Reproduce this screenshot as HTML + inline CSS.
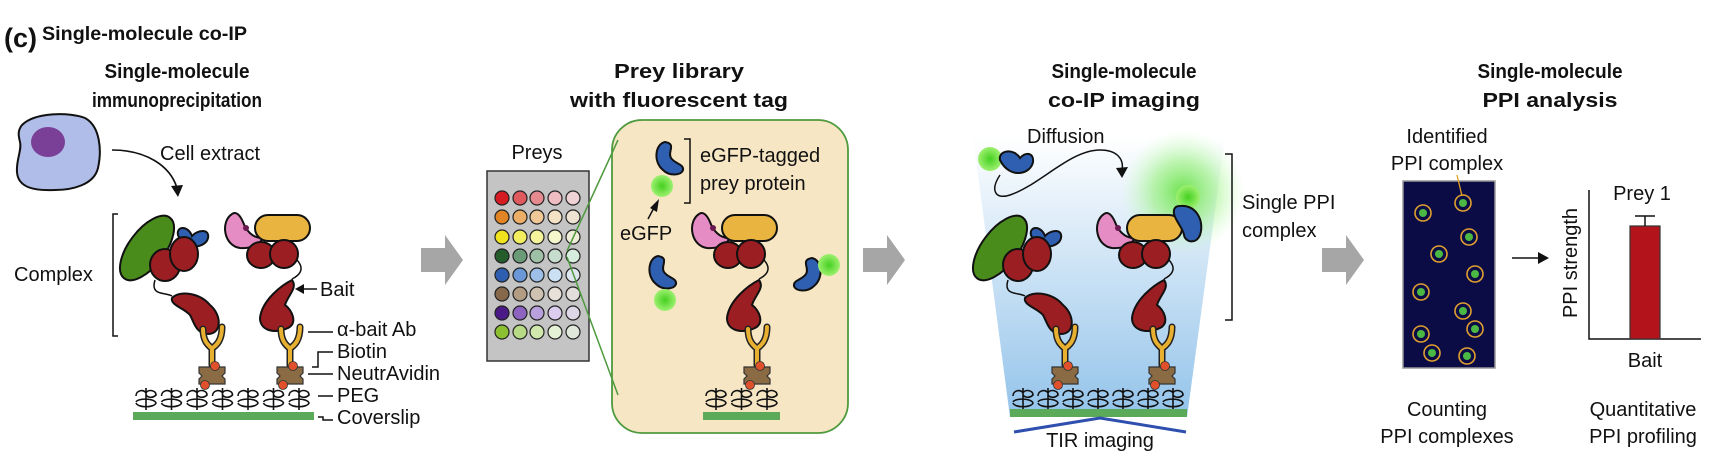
<!DOCTYPE html>
<html><head><meta charset="utf-8"><style>
html,body{margin:0;padding:0;background:#fff}
svg{display:block}
text{font-family:"Liberation Sans",Arial,sans-serif;fill:#111}
.t{font-weight:bold;font-size:20px}
.l{font-size:20px}
</style></head><body>
<svg width="1730" height="453" viewBox="0 0 1730 453" xmlns="http://www.w3.org/2000/svg">
<defs>
<linearGradient id="cone" x1="0" y1="0" x2="0" y2="1">
<stop offset="0" stop-color="#ffffff"/><stop offset="1" stop-color="#93c3ea"/></linearGradient>
<radialGradient id="glow"><stop offset="0" stop-color="#5ee03a" stop-opacity="0.9"/><stop offset="0.5" stop-color="#8ef070" stop-opacity="0.55"/><stop offset="1" stop-color="#c8ffc0" stop-opacity="0"/></radialGradient>
<radialGradient id="gfp" cx="0.5" cy="0.5" r="0.5"><stop offset="0" stop-color="#44d020"/><stop offset="1" stop-color="#9ef070"/></radialGradient>
<g id="stalk">
 <path d="M-9,-38 C-9,-22 0,-20 0,-18 M10,-40 C10,-22 0,-20 0,-18 M0,-18 L0,-2" stroke="#222" stroke-width="7" fill="none" stroke-linecap="round"/>
 <path d="M-9,-38 C-9,-22 0,-20 0,-18 M10,-40 C10,-22 0,-20 0,-18 M0,-18 L0,-2" stroke="#e8b030" stroke-width="4" fill="none" stroke-linecap="round"/>
 <path d="M-13,0 L13,0 L13,6 L10,9 L13,12 L13,17 L-13,17 L-13,12 L-10,9 L-13,6Z" fill="#8b6b43" stroke="#333" stroke-width="1.2"/>
 <circle cx="3" cy="-1" r="4.5" fill="#e0502a" stroke="#333" stroke-width="0.8"/>
 <circle cx="-7" cy="18" r="4.5" fill="#e0502a" stroke="#333" stroke-width="0.8"/>
</g>
<g id="A">
 <ellipse cx="147" cy="248" rx="18" ry="38" transform="rotate(37 147 248)" fill="#4a8c1c" stroke="#111" stroke-width="2"/>
 <path d="M178,235 C176,226 188,225 192,236 C197,230 210,228 208,238 C206,248 184,252 178,235Z" fill="#2f5fb0" stroke="#111" stroke-width="2"/>
 <ellipse cx="165" cy="265" rx="15" ry="16" fill="#9a1e22" stroke="#111" stroke-width="2"/>
 <ellipse cx="184" cy="254" rx="14" ry="17" fill="#9a1e22" stroke="#111" stroke-width="2"/>
 <path d="M155,280 C150,296 165,292 172,296" stroke="#111" stroke-width="1.5" fill="none"/>
 <path d="M172,298 C180,290 200,293 210,305 C222,315 222,334 208,334 C196,334 194,322 190,315 C184,308 170,305 172,298Z" fill="#9a1e22" stroke="#111" stroke-width="2"/>
 <use href="#stalk" transform="translate(212,367)"/>
</g>
<g id="B">
 <path d="M232,214 C220,222 224,246 240,248 C252,249 262,243 262,238 C252,238 246,230 243,222 C240,215 236,211 232,214Z" fill="#e58cc4" stroke="#111" stroke-width="2"/>
 <circle cx="246" cy="228" r="3" fill="#6a1a50"/>
 <rect x="255" y="215" width="55" height="26" rx="13" fill="#e9b440" stroke="#111" stroke-width="2"/>
 <ellipse cx="261" cy="255" rx="14" ry="13" fill="#9a1e22" stroke="#111" stroke-width="2"/>
 <ellipse cx="284" cy="254" rx="14" ry="14" fill="#9a1e22" stroke="#111" stroke-width="2"/>
 <path d="M297,260 C306,270 298,276 292,279" stroke="#111" stroke-width="1.5" fill="none"/>
 <path d="M292,280 C282,285 262,300 260,318 C260,331 275,334 288,328 C298,323 292,310 285,305 C288,295 298,288 292,280Z" fill="#9a1e22" stroke="#111" stroke-width="2"/>
 <use href="#stalk" transform="translate(290,367)"/>
</g>
<g id="peg">
 <path d="M2,8 C2,2 10,1 12,5 C14,1 22,2 22,7 C18,11 12,9 12,6 M12,0 L12,22 M2,14 C4,10 20,10 22,15 C20,20 4,20 2,15" stroke="#111" stroke-width="1.6" fill="none"/>
</g>
<g id="prey">
 <path d="M10,0 C0,2 -2,20 8,28 C14,34 26,34 28,28 C29,22 20,22 16,16 C12,10 22,2 10,0Z" fill="#2f5fb0" stroke="#111" stroke-width="2"/>
</g>
<g id="arr"><path d="M0,13 L24,13 L24,0 L42,25 L24,50 L24,37 L0,37Z" fill="#a6a6a6"/></g>
</defs>

<!-- header -->
<text x="4" y="47" style="font-weight:bold;font-size:27px">(c)</text>
<text x="42" y="40" class="t" style="font-size:19px" textLength="205" lengthAdjust="spacingAndGlyphs">Single-molecule co-IP</text>

<!-- titles -->
<text x="177" y="78" class="t" text-anchor="middle" textLength="145" lengthAdjust="spacingAndGlyphs">Single-molecule</text>
<text x="177" y="107" class="t" text-anchor="middle" textLength="170" lengthAdjust="spacingAndGlyphs">immunoprecipitation</text>
<text x="679" y="78" class="t" text-anchor="middle" textLength="130" lengthAdjust="spacingAndGlyphs">Prey library</text>
<text x="679" y="107" class="t" text-anchor="middle" textLength="218" lengthAdjust="spacingAndGlyphs">with fluorescent tag</text>
<text x="1124" y="78" class="t" text-anchor="middle" textLength="145" lengthAdjust="spacingAndGlyphs">Single-molecule</text>
<text x="1124" y="107" class="t" text-anchor="middle" textLength="152" lengthAdjust="spacingAndGlyphs">co-IP imaging</text>
<text x="1550" y="78" class="t" text-anchor="middle" textLength="145" lengthAdjust="spacingAndGlyphs">Single-molecule</text>
<text x="1550" y="107" class="t" text-anchor="middle" textLength="135" lengthAdjust="spacingAndGlyphs">PPI analysis</text>

<!-- panel 1 -->
<path d="M22,125 C35,112 70,112 85,118 C100,126 102,150 98,168 C94,185 72,190 55,190 C35,191 18,188 17,172 C16,160 22,150 20,142 C18,134 18,130 22,125Z" fill="#b0bde8" stroke="#111" stroke-width="2"/>
<ellipse cx="48" cy="142" rx="17" ry="15" fill="#7a3f96"/>
<path d="M112,150 C145,150 170,165 177,188" stroke="#111" stroke-width="1.6" fill="none"/>
<path d="M171,186 L178,197 L183,185Z" fill="#111"/>
<text x="160" y="160" class="l">Cell extract</text>
<path d="M118,214 L113,214 L113,336 L118,336" stroke="#111" stroke-width="1.5" fill="none"/>
<text x="14" y="281" class="l">Complex</text>
<use href="#A"/>
<use href="#B"/>
<g transform="translate(134,388)"><use href="#peg"/><use href="#peg" x="25.5"/><use href="#peg" x="51"/><use href="#peg" x="76.5"/><use href="#peg" x="102"/><use href="#peg" x="127.5"/><use href="#peg" x="153"/></g>
<rect x="133" y="412" width="181" height="8" fill="#5aaa5a"/>
<path d="M317,289 L302,289" stroke="#111" stroke-width="1.5"/><path d="M304,284 L295,289 L304,294Z" fill="#111"/>
<text x="320" y="296" class="l">Bait</text>
<path d="M308,332 L333,332" stroke="#111" stroke-width="1.5"/>
<text x="337" y="336" class="l">α-bait Ab</text>
<path d="M312,367 L318,367 L318,352 L333,352" stroke="#111" stroke-width="1.5" fill="none"/>
<text x="337" y="358" class="l">Biotin</text>
<path d="M308,374 L333,374" stroke="#111" stroke-width="1.5"/>
<text x="337" y="380" class="l">NeutrAvidin</text>
<path d="M318,396 L333,396" stroke="#111" stroke-width="1.5"/>
<text x="337" y="402" class="l">PEG</text>
<path d="M318,417 L323,417 L323,420 L333,420" stroke="#111" stroke-width="1.5" fill="none"/>
<text x="337" y="424" class="l">Coverslip</text>

<!-- arrows -->
<use href="#arr" transform="translate(421,235)"/>
<use href="#arr" transform="translate(863,235)"/>
<use href="#arr" transform="translate(1322,235)"/>

<!-- panel 2 -->
<text x="537" y="159" class="l" text-anchor="middle">Preys</text>
<rect x="487" y="171" width="102" height="190" fill="#c4c4c4" stroke="#333" stroke-width="1.5"/>
<g stroke="#222" stroke-width="1.2">
<circle cx="502" cy="198" r="7" fill="#d41c22"/><circle cx="520" cy="198" r="7" fill="#de5a5e"/><circle cx="537" cy="198" r="7" fill="#e58a8e"/><circle cx="555" cy="198" r="7" fill="#efbcc2"/><circle cx="573" cy="198" r="7" fill="#efd2d6"/>
<circle cx="502" cy="217" r="7" fill="#e08424"/><circle cx="520" cy="217" r="7" fill="#eaae68"/><circle cx="537" cy="217" r="7" fill="#f0c898"/><circle cx="555" cy="217" r="7" fill="#f4e2c6"/><circle cx="573" cy="217" r="7" fill="#eee2d2"/>
<circle cx="502" cy="237" r="7" fill="#f0e21c"/><circle cx="520" cy="237" r="7" fill="#f2ee60"/><circle cx="537" cy="237" r="7" fill="#f4f29a"/><circle cx="555" cy="237" r="7" fill="#f6f6cc"/><circle cx="573" cy="237" r="7" fill="#eeeed8"/>
<circle cx="502" cy="256" r="7" fill="#245c2c"/><circle cx="520" cy="256" r="7" fill="#6a9a78"/><circle cx="537" cy="256" r="7" fill="#9ec0a6"/><circle cx="555" cy="256" r="7" fill="#c6dccc"/><circle cx="573" cy="256" r="7" fill="#d6ecdc"/>
<circle cx="502" cy="275" r="7" fill="#2e5eb0"/><circle cx="520" cy="275" r="7" fill="#6a98d6"/><circle cx="537" cy="275" r="7" fill="#9ec0e8"/><circle cx="555" cy="275" r="7" fill="#cce0f4"/><circle cx="573" cy="275" r="7" fill="#dde6ee"/>
<circle cx="502" cy="294" r="7" fill="#86684a"/><circle cx="520" cy="294" r="7" fill="#b29c84"/><circle cx="537" cy="294" r="7" fill="#d0c2b0"/><circle cx="555" cy="294" r="7" fill="#e6e0d8"/><circle cx="573" cy="294" r="7" fill="#e2dedc"/>
<circle cx="502" cy="313" r="7" fill="#4a1a86"/><circle cx="520" cy="313" r="7" fill="#8c64c0"/><circle cx="537" cy="313" r="7" fill="#b8a0dc"/><circle cx="555" cy="313" r="7" fill="#dccdee"/><circle cx="573" cy="313" r="7" fill="#ddd6e6"/>
<circle cx="502" cy="332" r="7" fill="#8cc030"/><circle cx="520" cy="332" r="7" fill="#b6da86"/><circle cx="537" cy="332" r="7" fill="#d0e8ae"/><circle cx="555" cy="332" r="7" fill="#e6f2d6"/><circle cx="573" cy="332" r="7" fill="#dfe8da"/>
</g>
<rect x="612" y="120" width="236" height="313" rx="30" fill="#f7e6c4" stroke="#4f9a3e" stroke-width="1.8"/>
<path d="M618,140 L567,251 M567,257 L618,395" stroke="#4f9a3e" stroke-width="1.5" fill="none"/>
<use href="#prey" transform="translate(655,142)"/>
<circle cx="662" cy="186" r="11" fill="url(#gfp)"/>
<path d="M684,139 L690,139 L690,203 L684,203" stroke="#111" stroke-width="1.5" fill="none"/>
<text x="700" y="162" class="l">eGFP-tagged</text>
<text x="700" y="190" class="l">prey protein</text>
<text x="620" y="240" class="l">eGFP</text>
<path d="M648,219 L656,204" stroke="#111" stroke-width="1.5"/><path d="M650,208 L659,199 L657,212Z" fill="#111"/>
<use href="#B" transform="translate(467,0)"/>
<use href="#prey" transform="translate(648,256)"/>
<circle cx="665" cy="300" r="11" fill="url(#gfp)"/>
<use href="#prey" transform="translate(822,258) scale(-1,1)"/>
<circle cx="829" cy="265" r="11" fill="url(#gfp)"/>
<g transform="translate(704,388)"><use href="#peg"/><use href="#peg" x="25.5"/><use href="#peg" x="51"/></g>
<rect x="703" y="412" width="77" height="8" fill="#5aaa5a"/>

<!-- panel 3 -->
<path d="M973,137 L1225,137 L1187,417 L1010,417Z" fill="url(#cone)"/>
<circle cx="1183" cy="192" r="62" fill="url(#glow)"/>
<text x="1027" y="143" class="l">Diffusion</text>
<path d="M1000,175 C990,190 995,200 1010,195 C1040,185 1070,150 1100,150 C1118,150 1124,160 1122,170" stroke="#111" stroke-width="1.5" fill="none"/>
<path d="M1116,168 L1122,178 L1128,167Z" fill="#111"/>
<circle cx="990" cy="159" r="12" fill="url(#gfp)"/>
<path d="M1000,160 C998,150 1014,148 1020,158 C1025,152 1034,152 1033,162 C1031,174 1010,180 1000,160Z" fill="#2f5fb0" stroke="#111" stroke-width="2"/>
<use href="#A" transform="translate(853,0)"/>
<use href="#B" transform="translate(872,0)"/>
<circle cx="1188" cy="197" r="12" fill="url(#gfp)"/>
<path d="M1180,206 C1195,204 1205,220 1200,235 C1196,245 1185,242 1184,235 C1183,228 1176,222 1174,214 C1173,208 1176,206 1180,206Z" fill="#2f5fb0" stroke="#111" stroke-width="2"/>
<g transform="translate(1011,388)"><use href="#peg"/><use href="#peg" x="25"/><use href="#peg" x="50"/><use href="#peg" x="75"/><use href="#peg" x="100"/><use href="#peg" x="125"/><use href="#peg" x="150"/></g>
<rect x="1010" y="409" width="177" height="8" fill="#5aaa5a"/>
<path d="M1014,432 L1100,418 L1186,432" stroke="#2e4fae" stroke-width="3" fill="none"/>
<text x="1100" y="447" class="l" text-anchor="middle">TIR imaging</text>
<path d="M1225,154 L1232,154 L1232,320 L1225,320" stroke="#111" stroke-width="1.5" fill="none"/>
<text x="1242" y="209" class="l">Single PPI</text>
<text x="1242" y="237" class="l">complex</text>

<!-- panel 4 -->
<text x="1447" y="143" class="l" text-anchor="middle">Identified</text>
<text x="1447" y="170" class="l" text-anchor="middle">PPI complex</text>
<rect x="1403" y="181" width="92" height="187" fill="#0b0b45" stroke="#999" stroke-width="1.5"/>
<path d="M1457,175 L1462,196" stroke="#e0a020" stroke-width="1.3"/>
<g stroke="#e0a030" stroke-width="1.6" fill="none">
<circle cx="1423" cy="213" r="8"/><circle cx="1463" cy="203" r="8"/><circle cx="1469" cy="237" r="8"/><circle cx="1439" cy="254" r="8"/><circle cx="1475" cy="274" r="8"/><circle cx="1421" cy="292" r="8"/><circle cx="1463" cy="311" r="8"/><circle cx="1475" cy="329" r="8"/><circle cx="1421" cy="334" r="8"/><circle cx="1432" cy="353" r="8"/><circle cx="1467" cy="356" r="8"/>
</g>
<g fill="#4cb844">
<circle cx="1423" cy="213" r="4"/><circle cx="1463" cy="203" r="4"/><circle cx="1469" cy="237" r="4"/><circle cx="1439" cy="254" r="4"/><circle cx="1475" cy="274" r="4"/><circle cx="1421" cy="292" r="4"/><circle cx="1463" cy="311" r="4"/><circle cx="1475" cy="329" r="4"/><circle cx="1421" cy="334" r="4"/><circle cx="1432" cy="353" r="4"/><circle cx="1467" cy="356" r="4"/>
</g>
<path d="M1512,258 L1540,258" stroke="#111" stroke-width="1.5"/><path d="M1538,252 L1549,258 L1538,264Z" fill="#111"/>
<path d="M1589,190 L1589,339 L1701,339" stroke="#111" stroke-width="1.5" fill="none"/>
<rect x="1630" y="226" width="30" height="113" fill="#b3141c" stroke="#333" stroke-width="1.2"/>
<path d="M1645,226 L1645,216 M1635,216 L1655,216" stroke="#111" stroke-width="1.5"/>
<text x="1642" y="200" class="l" text-anchor="middle">Prey 1</text>
<text x="0" y="0" class="l" text-anchor="middle" transform="translate(1577,263) rotate(-90)">PPI strength</text>
<text x="1645" y="367" class="l" text-anchor="middle">Bait</text>
<text x="1447" y="416" class="l" text-anchor="middle">Counting</text>
<text x="1447" y="443" class="l" text-anchor="middle">PPI complexes</text>
<text x="1643" y="416" class="l" text-anchor="middle">Quantitative</text>
<text x="1643" y="443" class="l" text-anchor="middle">PPI profiling</text>
</svg>
</body></html>
